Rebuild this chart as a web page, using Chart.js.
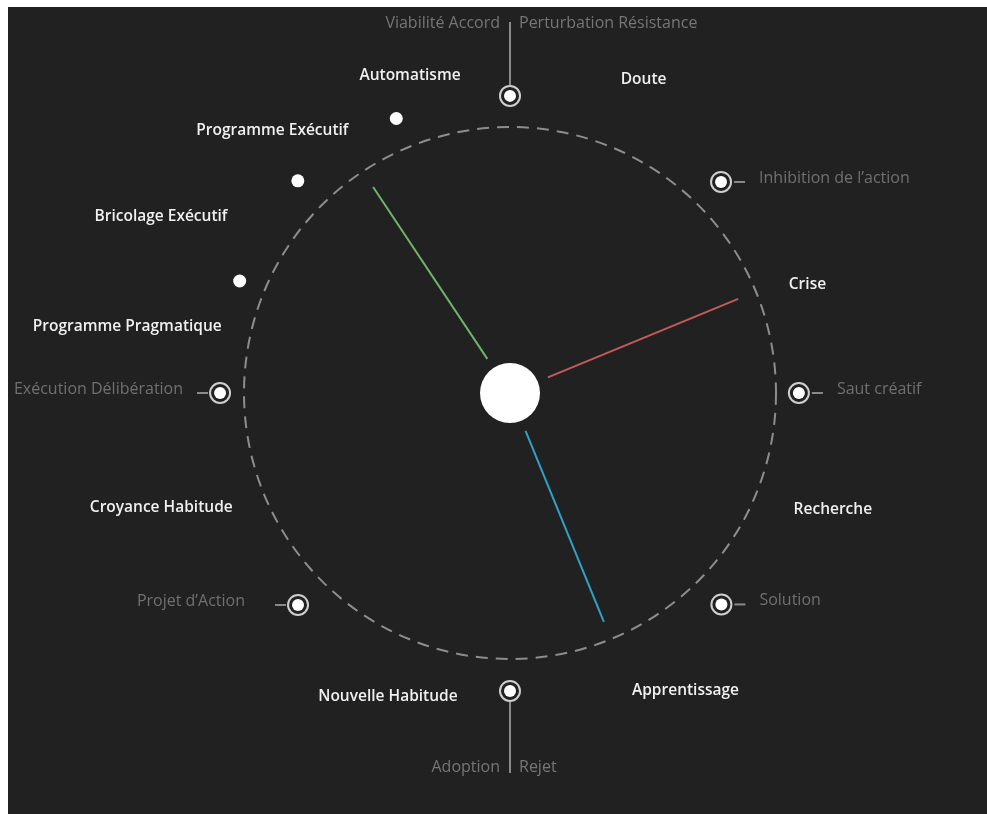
<!DOCTYPE html>
<html><head><meta charset="utf-8">
<script src="https://cdn.jsdelivr.net/npm/chart.js@4.4.0/dist/chart.umd.min.js"></script>
<style>
html,body{margin:0;padding:0;background:#fff;}
#wrap{position:absolute;left:8px;top:7px;width:979px;height:807px;background:#212121;overflow:hidden;}
canvas{display:block;}
</style></head><body>
<div id="wrap"><canvas id="c" width="979" height="807"></canvas></div>
<script>
// Angles: degrees clockwise from the top. Radii: in units of the dashed circle's radius.
const circleRadius = 1;

const stageLabels = ['Doute','Crise','Recherche','Apprentissage','Nouvelle Habitude','Croyance Habitude','Programme Pragmatique','Bricolage Exécutif','Programme Exécutif','Automatisme'];
const stageAngles = [23.1, 70.0, 109.8, 149.5, 201.9, 251.8, 279.8, 296.8, 317.8, 342.5];
const stageRadii  = [1.28, 1.19, 1.29, 1.30, 1.23, 1.38, 1.46, 1.47, 1.33, 1.25];

const milestoneAngles = [0, 45, 90, 135, 180, 225, 270];
const milestoneRadii  = [1.117, 1.122, 1.086, 1.124, 1.120, 1.127, 1.090];
const milestoneLeftLabels  = ['Viabilité Accord', '', '', '', 'Adoption', 'Projet d\u2019Action', 'Exécution Délibération'];
const milestoneRightLabels = ['Perturbation Résistance', 'Inhibition de l\u2019action', 'Saut créatif', 'Solution', 'Rejet', '', ''];

const dotAngles = [292.5, 315, 337.5];
const dotRadii  = [1.10, 1.128, 1.117];

const handNames   = ['Vert', 'Rouge', 'Bleu'];
const handAngles  = [326.4, 67.6, 157.7];
const handStart   = [0.154, 0.154, 0.154];
const handLengths = [0.93, 0.928, 0.93];

function polar(angleDeg, r) {
  const a = angleDeg * Math.PI / 180;
  return { x: r * Math.sin(a), y: r * Math.cos(a) };
}

const BG = '#212121';
const handColors = ['#6fb46c', '#c45a5a', '#2ea3c6'];

const datasets = [];
handAngles.forEach((ang, i) => {
  datasets.push({
    label: handNames[i],
    data: [polar(ang, handStart[i]), polar(ang, handLengths[i])],
    showLine: true, borderColor: handColors[i], borderWidth: 2,
    pointRadius: 0, order: 5
  });
});
datasets.push({ label: 'centre', data: [{x: 0, y: 0}], pointRadius: 30,
  pointBackgroundColor: '#ffffff', pointBorderWidth: 0, order: 1 });
datasets.push({ label: 'cercle', dashed: true, data: [{x: 0, y: 0}],
  pointRadius: (ctx) => {
    const s = ctx.chart.scales.x;
    const r = s.getPixelForValue(circleRadius) - s.getPixelForValue(0);
    return isFinite(r) && r > 0 ? r : 0;
  },
  pointBackgroundColor: 'rgba(0,0,0,0)', pointBorderColor: '#8d8d8d', pointBorderWidth: 2, order: 10 });
const milestonePts = milestoneAngles.map((a, i) => polar(a, milestoneRadii[i]));
datasets.push({ label: 'jalons', data: milestonePts, pointRadius: 10,
  pointBackgroundColor: BG, pointBorderColor: '#cfcfcf', pointBorderWidth: 2, order: 3 });
datasets.push({ label: 'jalons-centre', data: milestonePts, pointRadius: 6,
  pointBackgroundColor: '#ffffff', pointBorderWidth: 0, order: 2 });
datasets.push({ label: 'points', data: dotAngles.map((a, i) => polar(a, dotRadii[i])), pointRadius: 6.5,
  pointBackgroundColor: '#ffffff', pointBorderWidth: 0, order: 2 });

const textPlugin = {
  id: 'textPlugin',
  beforeDatasetDraw(chart, args) {
    if (chart.data.datasets[args.index].dashed) chart.ctx.setLineDash([12, 8]);
  },
  afterDatasetDraw(chart) {
    chart.ctx.setLineDash([]);
  },
  afterDatasetsDraw(chart) {
    const {ctx, scales: {x, y}} = chart;
    const px = (p) => ({ x: x.getPixelForValue(p.x), y: y.getPixelForValue(p.y) });
    ctx.save();
    ctx.font = '600 15.5px "Open Sans"';
    ctx.fillStyle = '#f0f0f0';
    ctx.textAlign = 'center';
    ctx.textBaseline = 'middle';
    stageLabels.forEach((t, i) => {
      const p = px(polar(stageAngles[i], stageRadii[i]));
      ctx.fillText(t, p.x, p.y);
    });
    ctx.font = '400 16px "Open Sans"';
    ctx.strokeStyle = '#8a8a8a';
    ctx.lineWidth = 2;
    milestoneAngles.forEach((a, i) => {
      const p = px(milestonePts[i]);
      ctx.beginPath();
      if (a === 0 || a === 180) {
        const dir = a === 0 ? -1 : 1;
        const end = a === 0 ? 74 : 82;
        ctx.moveTo(p.x, p.y + dir * 11);
        ctx.lineTo(p.x, p.y + dir * end);
        ctx.stroke();
        const ty = p.y + dir * (a === 0 ? 72 : 77);
        ctx.fillStyle = '#767676';
        ctx.textAlign = 'right';
        ctx.fillText(milestoneLeftLabels[i], p.x - 10, ty);
        ctx.textAlign = 'left';
        ctx.fillText(milestoneRightLabels[i], p.x + 9, ty);
      } else if (milestoneRightLabels[i]) {
        ctx.moveTo(p.x + 13, p.y);
        ctx.lineTo(p.x + 24, p.y);
        ctx.stroke();
        ctx.fillStyle = '#707070';
        ctx.textAlign = 'left';
        ctx.fillText(milestoneRightLabels[i], p.x + 38, p.y - 4);
      } else {
        const gap = a === 225 ? 53 : 37;
        ctx.moveTo(p.x - 12, p.y);
        ctx.lineTo(p.x - 23, p.y);
        ctx.stroke();
        ctx.fillStyle = '#707070';
        ctx.textAlign = 'right';
        ctx.fillText(milestoneLeftLabels[i], p.x - gap, p.y - 4);
      }
    });
    ctx.restore();
  }
};

new Chart(document.getElementById('c'), {
  type: 'scatter',
  data: { datasets },
  options: {
    responsive: false,
    animation: false,
    events: [],
    layout: { padding: 0, autoPadding: false },
    plugins: { legend: { display: false }, tooltip: { enabled: false } },
    scales: {
      x: { type: 'linear', display: false, min: -502 / 266, max: 477 / 266 },
      y: { type: 'linear', display: false, min: -421 / 266, max: 386 / 266 }
    }
  },
  plugins: [textPlugin]
});
</script>
</body></html>
